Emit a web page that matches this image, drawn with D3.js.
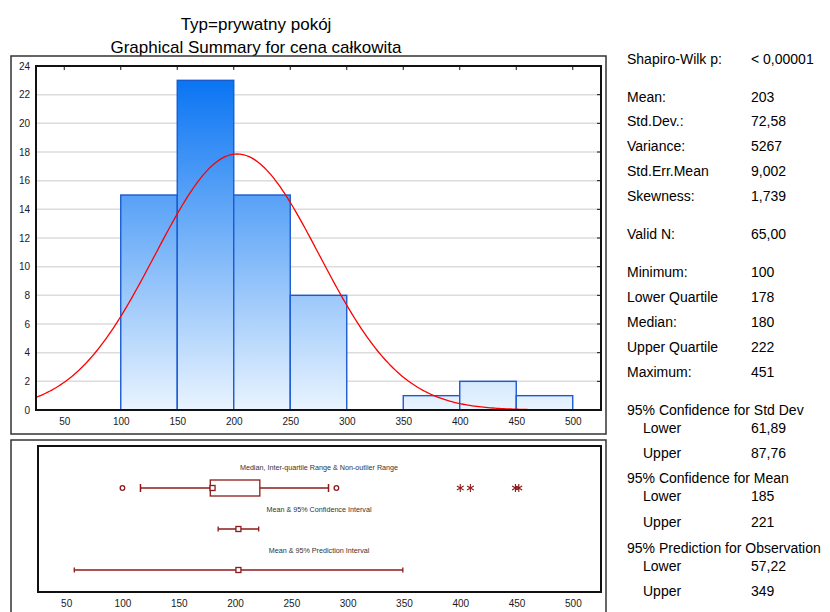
<!DOCTYPE html>
<html><head><meta charset="utf-8">
<script src="https://cdn.jsdelivr.net/npm/d3@7"></script>
<style>body{margin:0;background:#fff;} svg{display:block;font-family:"Liberation Sans",Arial,sans-serif;}</style>
</head><body>
<script>
// ---- data ----
const titleLines = ["Typ=prywatny pokój", "Graphical Summary for cena całkowita"];
const binStarts = [100, 150, 200, 250, 300, 350, 400, 450];
const binCounts = [15, 23, 15, 8, 0, 1, 2, 1];
const binWidth = 50;
const xTicks = [50, 100, 150, 200, 250, 300, 350, 400, 450, 500];
const yTicks = [0, 2, 4, 6, 8, 10, 12, 14, 16, 18, 20, 22, 24];
const fitMean = 203, fitSD = 72.58, nValid = 65;
// box plot
const boxQ = {min: 116, q1: 178, median: 180, q3: 222, max: 283};
const outliers = [100, 290];
const extremes = [400, 409, 449, 452];
const ciMean = {lo: 185, mean: 203, hi: 221};
const piMean = {lo: 57.22, mean: 203, hi: 349};
const rowLabels = ["Median, Inter-quartile Range & Non-outlier Range", "Mean & 95% Confidence Interval", "Mean & 95% Prediction Interval"];
// stats panel
const statLabels = ["Shapiro-Wilk p:", "Mean:", "Std.Dev.:", "Variance:", "Std.Err.Mean", "Skewness:", "Valid N:", "Minimum:", "Lower Quartile", "Median:", "Upper Quartile", "Maximum:", "95% Confidence for Std Dev", "Lower", "Upper", "95% Confidence for Mean", "Lower", "Upper", "95% Prediction for Observation", "Lower", "Upper"];
const statValues = ["< 0,00001", "203", "72,58", "5267", "9,002", "1,739", "65,00", "100", "178", "180", "222", "451", "", "61,89", "87,76", "", "185", "221", "", "57,22", "349"];
const statIndent = [0,0,0,0,0,0,0,0,0,0,0,0,0,1,1,0,1,1,0,1,1];
const statY = [59, 97, 121, 146, 171, 196, 234, 272, 297, 322, 347, 372, 410, 428, 453, 478, 496, 522, 548, 566, 591];

const W = 830, H = 612;
const svg = d3.select("body").append("svg").attr("width", W).attr("height", H);

// titles
svg.selectAll("text.title").data(titleLines).join("text")
  .attr("x", 256).attr("y", (d, i) => i === 0 ? 29.5 : 53)
  .attr("text-anchor", "middle").attr("font-size", 17).attr("fill", "#000").text(d => d);

// ---- top panel ----
svg.append("rect").attr("x", 11).attr("y", 56).attr("width", 595).attr("height", 378)
  .attr("fill", "none").attr("stroke", "#333").attr("stroke-width", 1.5);

const P = {l: 36, r: 601, t: 66, b: 410};
const x = d3.scaleLinear().domain([25, 525]).range([P.l, P.r]);
const y = d3.scaleLinear().domain([0, 24]).range([P.b, P.t]);

const defs = svg.append("defs");
const grad = defs.append("linearGradient").attr("id", "barGrad")
  .attr("gradientUnits", "userSpaceOnUse").attr("x1", 0).attr("x2", 0).attr("y1", P.t).attr("y2", P.b);
grad.append("stop").attr("offset", 0).attr("stop-color", "#006ff2");
grad.append("stop").attr("offset", 1).attr("stop-color", "#e9f4ff");
defs.append("clipPath").attr("id", "plotClip").append("rect")
  .attr("x", P.l).attr("y", P.t).attr("width", P.r - P.l).attr("height", P.b - P.t);

// grid
svg.append("g").selectAll("line").data(yTicks.slice(1, -1)).join("line")
  .attr("x1", P.l).attr("x2", P.r).attr("y1", d => y(d)).attr("y2", d => y(d))
  .attr("stroke", "#dcdcdc").attr("stroke-width", 1.5);

// bars
svg.append("g").selectAll("rect").data(binStarts.map((s, i) => ({s, c: binCounts[i]})).filter(d => d.c > 0)).join("rect")
  .attr("x", d => x(d.s)).attr("width", d => x(d.s + binWidth) - x(d.s))
  .attr("y", d => y(d.c)).attr("height", d => y(0) - y(d.c))
  .attr("fill", "url(#barGrad)").attr("stroke", "#1b5bd0").attr("stroke-width", 1.4);

// fitted normal curve from stats
const curvePts = d3.range(25, 525.5, 2).map(v => [v, nValid * binWidth * Math.exp(-0.5 * ((v - fitMean) / fitSD) ** 2) / (fitSD * Math.sqrt(2 * Math.PI))]);
svg.append("path").datum(curvePts).attr("clip-path", "url(#plotClip)")
  .attr("d", d3.line().x(d => x(d[0])).y(d => y(d[1])))
  .attr("fill", "none").attr("stroke", "#ff0000").attr("stroke-width", 1.3);

// border
svg.append("rect").attr("x", P.l).attr("y", P.t).attr("width", P.r - P.l).attr("height", P.b - P.t)
  .attr("fill", "none").attr("stroke", "#111").attr("stroke-width", 2);

// ticks: top inward, right inward
svg.append("g").selectAll("line").data(xTicks).join("line")
  .attr("x1", d => x(d)).attr("x2", d => x(d)).attr("y1", P.t).attr("y2", P.t + 4)
  .attr("stroke", "#111").attr("stroke-width", 1);
svg.append("g").selectAll("line").data(yTicks).join("line")
  .attr("x1", P.r).attr("x2", P.r - 4).attr("y1", d => y(d)).attr("y2", d => y(d))
  .attr("stroke", "#111").attr("stroke-width", 1);

// axis labels via d3 axes
const xAxisTop = svg.append("g").attr("transform", `translate(0,${P.b})`)
  .call(d3.axisBottom(x).tickValues(xTicks).tickSize(0).tickPadding(8).tickFormat(d3.format("d")));
const yAxis = svg.append("g").attr("transform", `translate(${P.l - 6},0)`)
  .call(d3.axisLeft(y).tickValues(yTicks).tickSize(0).tickPadding(0).tickFormat(d3.format("d")));
[xAxisTop, yAxis].forEach(g => {
  g.select(".domain").remove();
  g.selectAll("text").attr("font-size", 10).attr("fill", "#1a1a1a").attr("font-family", '"Liberation Sans",Arial,sans-serif');
});

// ---- bottom panel ----
svg.append("rect").attr("x", 11).attr("y", 440).attr("width", 595).attr("height", 180)
  .attr("fill", "none").attr("stroke", "#333").attr("stroke-width", 1.5);
const B = {l: 38, r: 601, t: 446, b: 592};
const x2 = d3.scaleLinear().domain([25, 525]).range([B.l, B.r]);
svg.append("rect").attr("x", B.l).attr("y", B.t).attr("width", B.r - B.l).attr("height", B.b - B.t)
  .attr("fill", "none").attr("stroke", "#111").attr("stroke-width", 2);
const xAxisBot = svg.append("g").attr("transform", `translate(0,${B.b})`)
  .call(d3.axisBottom(x2).tickValues(xTicks).tickSize(0).tickPadding(8).tickFormat(d3.format("d")));
xAxisBot.select(".domain").remove();
xAxisBot.selectAll("text").attr("font-size", 10).attr("fill", "#1a1a1a").attr("font-family", '"Liberation Sans",Arial,sans-serif');

const red = "#8c1a1a";
const rowY = [488, 529, 570];
const labelY = [470, 512, 553];
svg.append("g").selectAll("text").data(rowLabels).join("text")
  .attr("x", 319).attr("y", (d, i) => labelY[i]).attr("text-anchor", "middle")
  .attr("font-size", 7.2).attr("fill", "#333").text(d => d);

const g = svg.append("g").attr("stroke", red).attr("fill", "none");
// row 1: box & whiskers
const r1 = rowY[0];
g.append("line").attr("x1", x2(boxQ.min)).attr("x2", x2(boxQ.q1)).attr("y1", r1).attr("y2", r1).attr("stroke-width", 1.5);
g.append("line").attr("x1", x2(boxQ.q3)).attr("x2", x2(boxQ.max)).attr("y1", r1).attr("y2", r1).attr("stroke-width", 1.5);
[boxQ.min, boxQ.max].forEach(v => g.append("line").attr("x1", x2(v)).attr("x2", x2(v)).attr("y1", r1 - 4).attr("y2", r1 + 4).attr("stroke-width", 1.5));
g.append("rect").attr("x", x2(boxQ.q1)).attr("y", r1 - 8).attr("width", x2(boxQ.q3) - x2(boxQ.q1)).attr("height", 16)
  .attr("fill", "#fff").attr("stroke-width", 1.3);
g.append("rect").attr("x", x2(boxQ.median) - 2.5).attr("y", r1 - 2.5).attr("width", 5).attr("height", 5).attr("fill", "#fff").attr("stroke-width", 1.3);
g.selectAll("circle").data(outliers).join("circle").attr("cx", d => x2(d)).attr("cy", r1).attr("r", 2.3)
  .attr("fill", "#fff").attr("stroke-width", 1.3);
g.selectAll("path.ext").data(extremes).join("path").attr("class", "ext")
  .attr("transform", d => `translate(${x2(d)},${r1})`)
  .attr("d", d3.symbol(d3.symbolAsterisk, 42)).attr("stroke-width", 1.1);
// rows 2 & 3: mean with intervals
[[ciMean, rowY[1]], [piMean, rowY[2]]].forEach(([m, ry]) => {
  g.append("line").attr("x1", x2(m.lo)).attr("x2", x2(m.hi)).attr("y1", ry).attr("y2", ry).attr("stroke-width", 1.5);
  [m.lo, m.hi].forEach(v => g.append("line").attr("x1", x2(v)).attr("x2", x2(v)).attr("y1", ry - 2.5).attr("y2", ry + 2.5).attr("stroke-width", 1.3));
  g.append("rect").attr("x", x2(m.mean) - 2.5).attr("y", ry - 2.5).attr("width", 5).attr("height", 5).attr("fill", "#fff").attr("stroke-width", 1.3);
});

// ---- stats panel ----
const sp = svg.append("g").attr("font-size", 14).attr("fill", "#000");
sp.selectAll("text.lab").data(statLabels).join("text").attr("class", "lab")
  .attr("x", (d, i) => statIndent[i] ? 643 : 627).attr("y", (d, i) => statY[i] + 5).text(d => d);
sp.selectAll("text.val").data(statValues).join("text").attr("class", "val")
  .attr("x", 751).attr("y", (d, i) => statY[i] + 5).text(d => d);
</script>
</body></html>
